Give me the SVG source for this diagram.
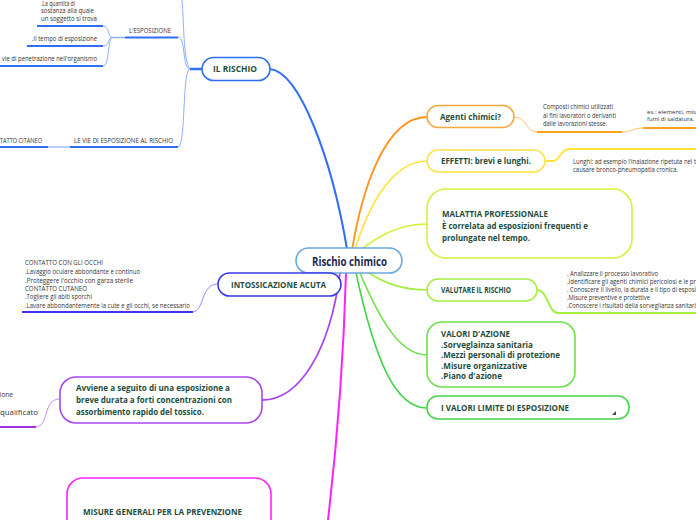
<svg xmlns="http://www.w3.org/2000/svg" width="696" height="520" viewBox="0 0 696 520">
<style>
.n{fill:#fff;stroke-width:1.6}
.t{font-family:"Open Sans","Noto Sans",sans-serif;font-weight:bold;font-size:9px;fill:#1f4d3b}
.t2{font-family:"Open Sans","Noto Sans",sans-serif;font-weight:bold;font-size:8.4px;fill:#1f4d3b}
.s{font-family:"Open Sans","Noto Sans",sans-serif;font-size:6.5px;fill:#333}
.s2{font-family:"Open Sans","Noto Sans",sans-serif;font-size:6px;fill:#333}
.c{fill:none}
</style>
<rect width="696" height="520" fill="#fff"/>
<g id="connectors" class="c">
<path d="M270,69 C300,72 332,160 347,249" stroke="#2f6ef5" stroke-width="2"/>
<path d="M352,250 C362,190 385,117 427,117" stroke="#ff9422" stroke-width="1.8"/>
<path d="M355,250 C370,200 395,161 427,161" stroke="#ffe33c" stroke-width="1.6"/>
<path d="M362,249 C380,235 400,224 427,224" stroke="#d6f03a" stroke-width="1.6"/>
<path d="M365,270 C385,285 405,290 427,290" stroke="#a6ee44" stroke-width="1.6"/>
<path d="M360,273 C380,320 400,355 427,355" stroke="#6ee04a" stroke-width="1.6"/>
<path d="M356,273 C375,360 395,408 427,408" stroke="#44d44a" stroke-width="1.6"/>
<path d="M346,273 C343,380 335,460 328,520" stroke="#ff22ff" stroke-width="2"/>
<path d="M340,273 C330,350 300,400 262,400" stroke="#a845f0" stroke-width="1.8"/>
<path d="M332,272 C336,278 338,283 341,285" stroke="#3a3ae8" stroke-width="1.6"/>
<path d="M190,69 L202,69" stroke="#2f6ef5" stroke-width="2.5"/>
<path d="M190,69 C182,69 186,37 178,37" stroke="#8fb0f8" stroke-width="1"/>
<path d="M190,69 C183,60 184,20 182,0" stroke="#8fb0f8" stroke-width="1"/>
<path d="M190,69 C182,69 186,147 178,147" stroke="#8fb0f8" stroke-width="1"/>
<path d="M125,37.5 L178,37.5" stroke="#2f6ef5" stroke-width="2.2"/>
<path d="M113,37.5 L125,37.5" stroke="#8fb0f8" stroke-width="1.5"/>
<path d="M113,37.5 C107,37.5 110,26 103,26" stroke="#8fb0f8" stroke-width="1"/>
<path d="M113,37.5 C107,37.5 110,46 103,46" stroke="#8fb0f8" stroke-width="1"/>
<path d="M113,37.5 C107,37.5 110,66 103,66" stroke="#8fb0f8" stroke-width="1"/>
<path d="M37,26 L103,26" stroke="#2f6ef5" stroke-width="2"/>
<path d="M27,46 L103,46" stroke="#2f6ef5" stroke-width="2"/>
<path d="M0,66 L103,66" stroke="#2f6ef5" stroke-width="2"/>
<path d="M70,147 L178,147" stroke="#2f6ef5" stroke-width="2.2"/>
<path d="M48,147 L70,147" stroke="#b8cdf8" stroke-width="2"/>
<path d="M0,147 L48,147" stroke="#2f6ef5" stroke-width="2"/>
<path d="M218,284 C200,284 205,312 192,312" stroke="#9a88ff" stroke-width="1"/>
<path d="M22,312 L193,312" stroke="#4433ee" stroke-width="2"/>
<path d="M60,399 C42,399 50,427 35,427" stroke="#c58af5" stroke-width="1"/>
<path d="M0,427 L36,427" stroke="#a030e0" stroke-width="2"/>
<path d="M514,117 C528,117 525,132 537,132" stroke="#ffc46a" stroke-width="1"/>
<path d="M537,132 L622,132" stroke="#ffa020" stroke-width="2"/>
<path d="M622,132 C632,132 633,128 643,128" stroke="#ffc46a" stroke-width="1"/>
<path d="M643,128 L696,128" stroke="#ffa020" stroke-width="2"/>
<path d="M545,161 L553,161 C560,161 560,149 570,149 L696,149" stroke="#ffe33c" stroke-width="1.8"/>
<path d="M537,290 C548,290 548,313 558,313 L696,313" stroke="#a6ee44" stroke-width="2"/>
</g>
<g id="il-rischio-texts">
<text class="s" x="129" y="33" textLength="42" lengthAdjust="spacingAndGlyphs">L'ESPOSIZIONE</text>
<text class="s" x="41" y="5.5" textLength="34" lengthAdjust="spacingAndGlyphs">.La quantità di</text>
<text class="s" x="41" y="13" textLength="53" lengthAdjust="spacingAndGlyphs">sostanza alla quale</text>
<text class="s" x="41" y="21" textLength="56" lengthAdjust="spacingAndGlyphs">un soggetto si trova</text>
<text class="s" x="32" y="41" textLength="65" lengthAdjust="spacingAndGlyphs">.Il tempo di esposizione</text>
<text class="s" x="2" y="61" textLength="95" lengthAdjust="spacingAndGlyphs">vie di penetrazione nell'organismo</text>
<text class="s" x="74" y="143" textLength="99" lengthAdjust="spacingAndGlyphs">LE VIE DI ESPOSIZIONE AL RISCHIO</text>
<text class="s" x="0" y="143" textLength="42" lengthAdjust="spacingAndGlyphs">TATTO CITANEO</text>
</g>
<g id="intossicazione-texts">
<text class="s" x="25" y="265" textLength="78" lengthAdjust="spacingAndGlyphs">CONTATTO CON GLI OCCHI</text>
<text class="s" x="25" y="274" textLength="115" lengthAdjust="spacingAndGlyphs">.Lavaggio oculare abbondante e continuo</text>
<text class="s" x="25" y="282.5" textLength="108" lengthAdjust="spacingAndGlyphs">.Proteggere l'occhio con garza sterile</text>
<text class="s" x="25" y="290.5" textLength="62" lengthAdjust="spacingAndGlyphs">CONTATTO CUTANEO</text>
<text class="s" x="25" y="299" textLength="67" lengthAdjust="spacingAndGlyphs">.Togliere gli abiti sporchi</text>
<text class="s" x="25" y="308" textLength="165" lengthAdjust="spacingAndGlyphs">.Lavare abbondantemente la cute e gli occhi, se necessario</text>
</g>
<g id="avviene-texts">
<text class="s" x="13" y="397" text-anchor="end">ione</text>
<text class="s" x="0" y="415" textLength="38" lengthAdjust="spacingAndGlyphs">qualificato</text>
</g>
<g id="agenti-texts">
<text class="s" x="543" y="109" textLength="70" lengthAdjust="spacingAndGlyphs">Composti chimici utilizzati</text>
<text class="s" x="543" y="117.5" textLength="73" lengthAdjust="spacingAndGlyphs">ai fini lavoratori o derivanti</text>
<text class="s" x="543" y="126" textLength="64" lengthAdjust="spacingAndGlyphs">dalle lavorazioni stesse.</text>
<text class="s2" x="647" y="113.5" textLength="49" lengthAdjust="spacingAndGlyphs">es.: elementi, mis</text>
<text class="s2" x="647" y="121" textLength="47" lengthAdjust="spacingAndGlyphs">fumi di saldatura,</text>
</g>
<g id="effetti-texts">
<text class="s" x="573" y="164" textLength="123" lengthAdjust="spacingAndGlyphs">Lunghi: ad esempio l'inalazione ripetuta nel t</text>
<text class="s" x="573" y="172" textLength="105" lengthAdjust="spacingAndGlyphs">causare bronco-pneumopatia cronica.</text>
</g>
<g id="valutare-texts">
<text class="s" x="567" y="276" textLength="91" lengthAdjust="spacingAndGlyphs">. Analizzare il processo lavorativo</text>
<text class="s" x="567" y="284" textLength="129" lengthAdjust="spacingAndGlyphs">.Identificare gli agenti chimici pericolosi e le pr</text>
<text class="s" x="567" y="292" textLength="129" lengthAdjust="spacingAndGlyphs">. Conoscere il livello, la durata e il tipo di esposi</text>
<text class="s" x="567" y="300" textLength="83" lengthAdjust="spacingAndGlyphs">.Misure preventive e protettive</text>
<text class="s" x="567" y="308" textLength="129" lengthAdjust="spacingAndGlyphs">.Conoscere i risultati della sorveglianza sanitari</text>
</g>
<g id="center">
<rect class="n" x="296" y="248" width="106" height="25" rx="12.5" stroke="#6aa8e0"/>
<text x="312" y="266" textLength="75" lengthAdjust="spacingAndGlyphs" style="font-family:'Open Sans','Noto Sans',sans-serif;font-weight:bold;font-size:12px;fill:#1c2750">Rischio chimico</text>
</g>
<g id="il-rischio">
<rect class="n" x="202" y="57.5" width="68" height="23" rx="11.5" stroke="#2f6ef5"/>
<text class="t" x="213" y="72" textLength="44" lengthAdjust="spacingAndGlyphs">IL RISCHIO</text>
</g>
<g id="agenti">
<rect class="n" x="427" y="105.5" width="87" height="22" rx="11" stroke="#f8a840"/>
<text class="t" x="440" y="120" textLength="61" lengthAdjust="spacingAndGlyphs">Agenti chimici?</text>
</g>
<g id="effetti">
<rect class="n" x="427" y="150" width="118" height="22" rx="11" stroke="#fde448"/>
<text class="t" x="441" y="164" textLength="90" lengthAdjust="spacingAndGlyphs">EFFETTI: brevi e lunghi.</text>
</g>
<g id="malattia">
<rect class="n" x="427" y="189" width="205" height="69" rx="19" stroke="#d6f03c"/>
<text class="t" x="442" y="217" textLength="106" lengthAdjust="spacingAndGlyphs">MALATTIA PROFESSIONALE</text>
<text class="t" x="442" y="229" textLength="146" lengthAdjust="spacingAndGlyphs">È correlata ad esposizioni frequenti e</text>
<text class="t" x="442" y="240.5" textLength="88" lengthAdjust="spacingAndGlyphs">prolungate nel tempo.</text>
</g>
<g id="valutare">
<rect class="n" x="427" y="279" width="110" height="22" rx="11" stroke="#a6ee44"/>
<text class="t" x="441" y="293" textLength="70" lengthAdjust="spacingAndGlyphs">VALUTARE IL RISCHIO</text>
</g>
<g id="valori-azione">
<rect class="n" x="427" y="322" width="148" height="65" rx="15" stroke="#6ee04a"/>
<text class="t2" x="441" y="337" textLength="69" lengthAdjust="spacingAndGlyphs">VALORI D'AZIONE</text>
<text class="t2" x="441" y="347.5" textLength="92" lengthAdjust="spacingAndGlyphs">.Sorveglainza sanitaria</text>
<text class="t2" x="441" y="358" textLength="119" lengthAdjust="spacingAndGlyphs">.Mezzi personali di protezione</text>
<text class="t2" x="441" y="368.5" textLength="86" lengthAdjust="spacingAndGlyphs">.Misure organizzative</text>
<text class="t2" x="441" y="379" textLength="61" lengthAdjust="spacingAndGlyphs">.Piano d'azione</text>
</g>
<g id="valori-limite">
<rect class="n" x="427" y="396" width="202" height="23" rx="11" stroke="#44d44a"/>
<text class="t" x="441" y="411" textLength="128" lengthAdjust="spacingAndGlyphs">I VALORI LIMITE DI ESPOSIZIONE</text>
<polygon points="616,411 616,415 612,415" fill="#444"/>
</g>
<g id="intossicazione">
<rect class="n" x="218" y="273" width="123" height="23" rx="11.5" stroke="#3a3ae8"/>
<text class="t" x="231" y="288" textLength="95" lengthAdjust="spacingAndGlyphs">INTOSSICAZIONE ACUTA</text>
</g>
<g id="avviene">
<rect class="n" x="60" y="377" width="202" height="46" rx="16" stroke="#a845f0"/>
<text class="t" x="76" y="391" textLength="154" lengthAdjust="spacingAndGlyphs">Avviene a seguito di una esposizione a</text>
<text class="t" x="76" y="403" textLength="156" lengthAdjust="spacingAndGlyphs">breve durata a forti concentrazioni con</text>
<text class="t" x="76" y="415" textLength="128" lengthAdjust="spacingAndGlyphs">assorbimento rapido del tossico.</text>
</g>
<g id="misure">
<rect class="n" x="67" y="478" width="204" height="70" rx="16" stroke="#ff22ff"/>
<text class="t" x="83" y="515" textLength="159" lengthAdjust="spacingAndGlyphs">MISURE GENERALI PER LA PREVENZIONE</text>
</g>
</svg>
